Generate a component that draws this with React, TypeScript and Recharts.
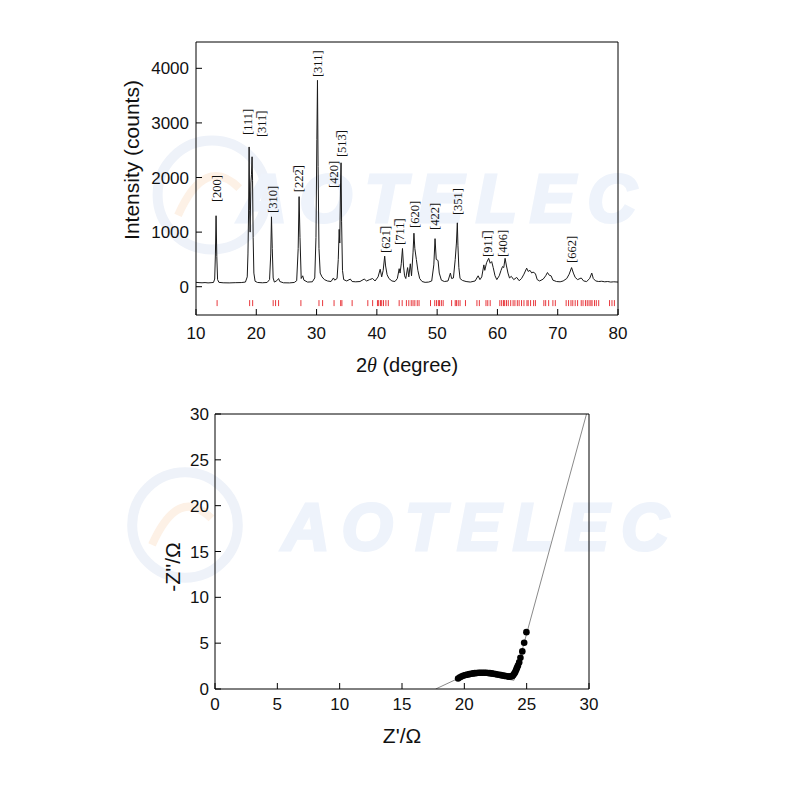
import { ComposedChart, Line, Scatter, XAxis, YAxis } from 'recharts';

// XRD pattern: [2theta, counts]
const xrdTheta = [
  10, 10.5, 11, 11.5, 12, 12.5, 12.9, 13.1, 13.22, 13.33, 13.45, 13.58, 13.8, 14.5, 15.5, 16.5, 17.5, 18.2, 18.5,
  18.62, 18.72, 18.81, 18.9, 18.98, 19.1, 19.2, 19.3, 19.38, 19.48, 19.6, 19.8, 20.2, 21, 21.8, 22.2, 22.4, 22.52,
  22.65, 22.8, 23, 23.4, 23.7, 23.9, 24.5, 25.5, 26.3, 26.7, 26.95, 27.1, 27.25, 27.45, 27.7, 27.9, 28.5, 29.3,
  29.7, 29.9, 30.05, 30.15, 30.25, 30.4, 30.6, 30.9, 31.3, 31.8, 32.4, 32.8, 33, 33.4, 33.6, 33.75, 33.85, 33.98,
  34.06, 34.15, 34.3, 34.5, 35, 35.6, 35.9, 36.5, 37.2, 37.9, 38.3, 38.8, 39.3, 39.7, 40.2, 40.55, 40.8, 41.05,
  41.3, 41.45, 41.7, 42, 42.5, 43, 43.4, 43.7, 43.85, 44.05, 44.25, 44.42, 44.6, 44.8, 45.1, 45.3, 45.55, 45.75,
  46, 46.15, 46.3, 46.55, 46.8, 47.1, 47.5, 48, 48.6, 49.1, 49.45, 49.65, 49.85, 50.15, 50.35, 50.7, 51.2, 51.8,
  52.2, 52.4, 52.7, 53, 53.2, 53.35, 53.45, 53.6, 53.8, 54.2, 54.8, 55.5, 56.3, 56.8, 57.1, 57.4, 57.75, 57.9,
  58.2, 58.55, 58.8, 59.05, 59.3, 59.6, 59.9, 60.3, 60.6, 60.85, 61.05, 61.27, 61.5, 61.75, 62, 62.3, 62.7, 63.2,
  63.6, 64, 64.4, 64.85, 65.1, 65.4, 65.7, 65.9, 66.3, 66.6, 67, 67.6, 68, 68.3, 68.6, 68.9, 69.2, 69.8, 70.4,
  70.9, 71.5, 71.9, 72.3, 72.6, 72.9, 73.3, 73.9, 74.3, 74.8, 75.3, 75.65, 75.9, 76.3, 76.8, 77.3, 77.8, 78.3,
  78.8, 79.3, 80,
];
const xrdCounts = [
  80, 75, 72, 76, 70, 74, 78, 140, 600, 1300, 550, 130, 80, 72, 70, 74, 76, 85, 180,
  600, 1350, 2560, 1400, 1000, 1900, 2050, 2380, 1950, 900, 250, 100, 78, 72, 78, 130, 600, 1280,
  700, 160, 85, 110, 150, 95, 72, 70, 78, 110, 700, 1650, 900, 150, 200, 120, 85, 90,
  160, 900, 2700, 3780, 2200, 700, 250, 180, 130, 105, 95, 160, 120, 150, 500, 1050, 800, 1900,
  2270, 1200, 300, 130, 105, 140, 95, 90, 95, 140, 105, 130, 150, 105, 180, 320, 180, 300,
  560, 380, 220, 150, 105, 95, 150, 330, 250, 420, 700, 380, 200, 150, 350, 180, 420, 200,
  620, 980, 700, 500, 300, 150, 95, 80, 85, 105, 400, 880, 500, 480, 250, 120, 95, 105,
  250, 150, 160, 500, 800, 1170, 750, 350, 150, 115, 95, 85, 105, 200, 130, 180, 400, 300,
  440, 520, 430, 460, 350, 200, 130, 200, 300, 370, 350, 520, 380, 250, 160, 190, 130, 170,
  110, 150, 230, 340, 280, 300, 250, 270, 240, 130, 105, 140, 200, 260, 210, 200, 120, 95, 90,
  105, 150, 230, 350, 250, 170, 130, 160, 105, 95, 150, 250, 150, 105, 95, 100, 90, 95,
  85, 90, 85,
];

// reference reflection positions (red ticks)
const refPeaks = [
  13.5, 18.9, 19.4, 22.8, 23.2, 23.7, 27.4, 30.4, 31.0, 32.9, 34.0, 34.2, 35.9, 38.5, 39.3, 40.1, 40.3, 40.6,
  40.8, 41.1, 41.5, 41.9, 43.7, 44.2, 44.9, 45.3, 45.7, 46.0, 46.3, 46.7, 47.0, 48.9, 49.6, 49.9, 50.2, 50.4,
  50.7, 51.0, 52.4, 53.0, 53.2, 53.5, 53.8, 54.7, 56.6, 57.0, 58.1, 58.4, 58.8, 60.4, 60.7, 61.0, 61.2, 61.5,
  61.8, 62.2, 62.6, 62.9, 63.3, 63.6, 64.0, 64.4, 64.9, 65.1, 65.5, 66.0, 66.3, 67.7, 68.0, 68.5, 69.2, 69.6,
  71.4, 71.8, 72.2, 72.5, 72.9, 73.3, 73.9, 74.2, 74.6, 74.9, 75.2, 75.5, 75.7, 76.1, 76.4, 76.8, 78.6, 79.0, 79.4,
];
const refTickLevel = -300;

// Miller index labels: position (2theta), label foot (counts), text
const hklTheta = [13.35, 18.5, 20.86, 22.7, 27.1, 30.1, 32.85, 34.13, 41.47, 43.8, 46.28, 49.6, 53.4, 58.44, 60.83, 72.27];
const hklLevel = [1550, 2780, 2740, 1350, 1730, 3840, 1810, 2375, 617, 764, 1075, 1040, 1313, 544, 544, 434];
const hklText = [
  '[200]', '[111]', '[311\u0305]', '[310]', '[222\u0305]', '[311]', '[420]', '[513\u0305]',
  '[621\u0305]', '[711\u0305]', '[620]', '[422]', '[351]', '[911\u0305]', '[406]', '[662]',
];

// impedance spectrum: Z' and -Z''
const zRe = [
  19.5, 19.65, 19.8, 19.95, 20.1, 20.25, 20.4, 20.55, 20.7, 20.85, 21, 21.15, 21.3, 21.45, 21.6, 21.75, 21.9,
  22.05, 22.2, 22.35, 22.5, 22.65, 22.8, 22.95, 23.1, 23.25, 23.45, 23.6, 23.72, 23.82, 23.9, 23.97, 24.04,
  24.1, 24.16, 24.22, 24.3, 24.4, 24.5, 24.65, 24.8, 24.98,
];
const zIm = [
  1.15, 1.28, 1.38, 1.46, 1.52, 1.57, 1.62, 1.66, 1.7, 1.73, 1.75, 1.77, 1.78, 1.78, 1.78, 1.77, 1.75,
  1.73, 1.7, 1.67, 1.63, 1.59, 1.55, 1.51, 1.47, 1.43, 1.38, 1.35, 1.36, 1.4, 1.48, 1.6, 1.75,
  1.9, 2.1, 2.3, 2.55, 2.9, 3.4, 4.1, 5.05, 6.2,
];
// fitted line through the spectrum
const fitRe = [17.7, 19.5, 21.5, 23.98, 29.8];
const fitIm = [0, 1.15, 1.55, 0.95, 30];

// ticks on the top and right frame of the impedance plot
const frameTicks = [3, 6, 9, 12, 15, 18, 21, 24, 27];

const xrdData = xrdTheta.map((x, i) => ({ x, y: xrdCounts[i] }));
const refData = refPeaks.map((x) => ({ x, y: refTickLevel }));
const hklData = hklTheta.map((x, i) => ({ x, y: hklLevel[i], text: hklText[i] }));
const eisData = zRe.map((x, i) => ({ x, y: zIm[i] }));
const fitData = fitRe.map((x, i) => ({ x, y: fitIm[i] }));

const SANS = '"Liberation Sans", Arial, sans-serif';
const SERIF = '"Liberation Serif", "Times New Roman", serif';

function RefTick(props: any) {
  const { cx, cy } = props;
  return <line x1={cx} x2={cx} y1={cy - 3} y2={cy + 3} stroke="#e8383d" strokeWidth={1} />;
}

function HklLabel(props: any) {
  const { cx, cy, payload } = props;
  return (
    <text
      x={cx}
      y={cy}
      dy="0.35em"
      transform={`rotate(-90 ${cx} ${cy})`}
      fontFamily={SERIF}
      fontSize={12.5}
      fill="#111"
    >
      {payload.text}
    </text>
  );
}

function Dot(props: any) {
  const { cx, cy } = props;
  return <circle cx={cx} cy={cy} r={3.3} fill="#000" />;
}

// tick marks hanging down from the top frame, long on multiples of 6
function TopFrameTick(props: any) {
  const { x, y, payload } = props;
  const len = payload.value % 6 === 0 ? 5 : 3;
  return <line x1={x} x2={x} y1={y} y2={y + len} stroke="#000" />;
}

function RightFrameTick(props: any) {
  const { x, y, payload } = props;
  const len = payload.value % 6 === 0 ? 5 : 3;
  return <line x1={x} x2={x - len} y1={y} y2={y} stroke="#000" />;
}

function Watermark({ cx, cy, tx, ty, size }: { cx: number; cy: number; tx: number; ty: number; size: number }) {
  return (
    <g>
      <circle cx={cx} cy={cy} r={size * 0.8} fill="none" stroke="#eef2f9" strokeWidth={10} />
      <path
        d={`M ${cx - size * 0.5} ${cy + size * 0.3} Q ${cx - size * 0.1} ${cy - size * 0.6} ${cx + size * 0.4} ${cy - size * 0.1}`}
        fill="none"
        stroke="#fdf1e6"
        strokeWidth={8}
      />
      <text
        x={tx}
        y={ty}
        fontFamily={SANS}
        fontWeight={700}
        fontStyle="italic"
        fontSize={size}
        letterSpacing={size * 0.18}
        fill="#eef3fb"
        stroke="#eef3fb"
        strokeWidth={3}
      >
        AOTELEC
      </text>
    </g>
  );
}

export default function App() {
  const tickTop = { fill: '#111', fontSize: 17, fontFamily: SANS };
  const tickBottom = { fill: '#111', fontSize: 17, fontFamily: SANS };
  return (
    <div style={{ position: 'absolute', left: 0, top: 0, width: 800, height: 800, background: '#fff' }}>
      <svg width={800} height={800} style={{ position: 'absolute', left: 0, top: 0 }}>
        <Watermark cx={212} cy={195} tx={238} ty={222} size={68} />
        <Watermark cx={185} cy={525} tx={282} ty={550} size={66} />
      </svg>

      <div style={{ position: 'absolute', left: 0, top: 0 }}>
        <ComposedChart width={800} height={400} margin={{ top: 41, right: 181, bottom: 55, left: 136 }}>
          <XAxis
            dataKey="x"
            type="number"
            domain={[10, 80]}
            ticks={[10, 20, 30, 40, 50, 60, 70, 80]}
            stroke="#000"
            tickSize={-6}
            tickMargin={18}
            tick={tickTop}
            height={30}
            allowDataOverflow
          />
          <XAxis xAxisId="top" orientation="top" type="number" domain={[10, 80]} height={1} tick={false} tickLine={false} stroke="#000" />
          <YAxis
            dataKey="y"
            type="number"
            domain={[-518, 4482]}
            ticks={[0, 1000, 2000, 3000, 4000]}
            stroke="#000"
            tickSize={-6}
            tickMargin={13}
            tick={tickTop}
            width={60}
            allowDataOverflow
          />
          <YAxis yAxisId="right" orientation="right" type="number" domain={[0, 1]} width={1} tick={false} tickLine={false} stroke="#000" />
          <Line data={xrdData} dataKey="y" stroke="#1a1a1a" strokeWidth={1} dot={false} isAnimationActive={false} />
          <Scatter data={refData} dataKey="y" shape={RefTick} isAnimationActive={false} />
          <Scatter data={hklData} dataKey="y" shape={HklLabel} isAnimationActive={false} />
        </ComposedChart>
      </div>

      <div style={{ position: 'absolute', left: 0, top: 400 }}>
        <ComposedChart width={800} height={400} margin={{ top: 13, right: 210, bottom: 81, left: 155 }}>
          <XAxis
            dataKey="x"
            type="number"
            domain={[0, 30]}
            ticks={[0, 5, 10, 15, 20, 25, 30]}
            stroke="#000"
            tickSize={-6}
            tickMargin={15}
            tick={tickBottom}
            height={30}
            allowDataOverflow
          />
          <XAxis
            xAxisId="top"
            orientation="top"
            type="number"
            domain={[0, 30]}
            ticks={frameTicks}
            height={1}
            tickSize={0}
            tickMargin={0}
            tickLine={false}
            tick={TopFrameTick}
            stroke="#000"
          />
          <YAxis
            dataKey="y"
            type="number"
            domain={[0, 30]}
            ticks={[0, 5, 10, 15, 20, 25, 30]}
            stroke="#000"
            tickSize={-6}
            tickMargin={12}
            tick={tickBottom}
            width={60}
            allowDataOverflow
          />
          <YAxis
            yAxisId="right"
            orientation="right"
            type="number"
            domain={[0, 30]}
            ticks={frameTicks}
            width={1}
            tickSize={0}
            tickMargin={0}
            tickLine={false}
            tick={RightFrameTick}
            stroke="#000"
          />
          <Line data={fitData} dataKey="y" stroke="#8a8a8a" strokeWidth={1} dot={false} isAnimationActive={false} />
          <Scatter data={eisData} dataKey="y" shape={Dot} isAnimationActive={false} />
        </ComposedChart>
      </div>

      <svg width={800} height={800} style={{ position: 'absolute', left: 0, top: 0, pointerEvents: 'none' }}>
        <text x={139} y={160} transform="rotate(-90 139 160)" textAnchor="middle" fontFamily={SANS} fontSize={21} fill="#111">
          Intensity (counts)
        </text>
        <text x={407} y={372} textAnchor="middle" fontFamily={SANS} fontSize={20} fill="#111">
          2<tspan fontFamily={SERIF} fontStyle="italic">θ</tspan> (degree)
        </text>
        <text x={180} y={567} transform="rotate(-90 180 567)" textAnchor="middle" fontFamily={SANS} fontSize={21} fill="#111">
          -Z''/Ω
        </text>
        <text x={402} y={743} textAnchor="middle" fontFamily={SANS} fontSize={21} fill="#111">
          Z'/Ω
        </text>
      </svg>
    </div>
  );
}
